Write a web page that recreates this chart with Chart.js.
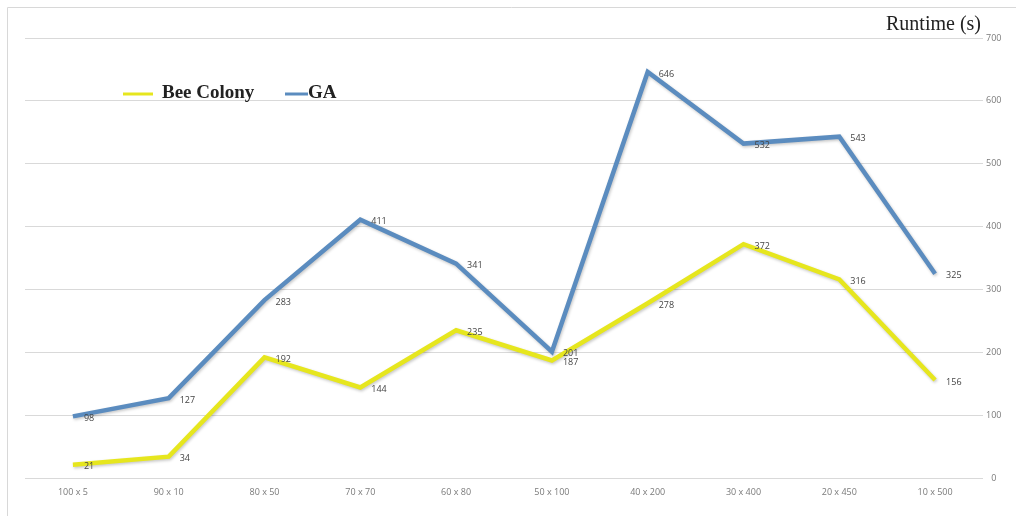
<!DOCTYPE html>
<html>
<head>
<meta charset="utf-8">
<script src="https://cdn.jsdelivr.net/npm/chart.js@4"></script>
<style>
html, body { margin: 0; padding: 0; background: #fff; }
#wrap { width: 1016px; height: 516px; }
</style>
</head>
<body>
<div id="wrap"><canvas id="myChart" width="1016" height="516"></canvas></div>
<script>
var categories = ['100 x 5', '90 x 10', '80 x 50', '70 x 70', '60 x 80', '50 x 100', '40 x 200', '30 x 400', '20 x 450', '10 x 500'];
var beeColony = [21, 34, 192, 144, 235, 187, 278, 372, 316, 156];
var ga = [98, 127, 283, 411, 341, 201, 646, 532, 543, 325];
var yTicks = [0, 100, 200, 300, 400, 500, 600, 700];

// frame, title, legend, value labels
var extras = {
    id: 'extras',
    beforeDatasetsDraw: function(chart){
        var ctx = chart.ctx;
        ctx.save();
        ctx.shadowColor = 'rgba(0,0,0,0.22)';
        ctx.shadowBlur = 3;
        ctx.shadowOffsetX = 1;
        ctx.shadowOffsetY = 1.5;
    },
    afterDatasetsDraw: function(chart){
        var ctx = chart.ctx;
        ctx.restore();
        // value labels
        ctx.save();
        ctx.font = '9px "Open Sans", sans-serif';
        ctx.fillStyle = '#444';
        ctx.textAlign = 'left';
        ctx.textBaseline = 'middle';
        chart.data.datasets.forEach(function(ds, i){
            chart.getDatasetMeta(i).data.forEach(function(pt, j){
                ctx.fillText(ds.data[j], pt.x + 11, pt.y + 2);
            });
        });
        ctx.restore();
    },
    afterDraw: function(chart){
        var ctx = chart.ctx;
        ctx.save();
        // faint frame
        ctx.strokeStyle = '#d8d8d8';
        ctx.lineWidth = 1;
        ctx.beginPath();
        ctx.moveTo(7.5, 516);
        ctx.lineTo(7.5, 7.5);
        ctx.lineTo(1016, 7.5);
        ctx.stroke();
        // axis title
        ctx.font = '20px "Liberation Serif", serif';
        ctx.fillStyle = '#222';
        ctx.textAlign = 'right';
        ctx.textBaseline = 'middle';
        ctx.fillText('Runtime (s)', 981, 25);
        // legend
        var items = [
            {x: 123, w: 30, tx: 162},
            {x: 285, w: 23, tx: 308}
        ];
        ctx.font = 'bold 19px "Liberation Serif", serif';
        ctx.textAlign = 'left';
        chart.data.datasets.forEach(function(ds, i){
            var it = items[i];
            ctx.strokeStyle = ds.borderColor;
            ctx.lineWidth = 3;
            ctx.beginPath();
            ctx.moveTo(it.x, 94);
            ctx.lineTo(it.x + it.w, 94);
            ctx.stroke();
            ctx.fillStyle = '#222';
            ctx.fillText(ds.label, it.tx, 93);
        });
        ctx.restore();
    }
};

var ctx = document.getElementById('myChart').getContext('2d');
var myChart = new Chart(ctx, {
    type: 'line',
    data: {
        labels: categories,
        datasets: [{
            label: 'Bee Colony',
            data: beeColony,
            borderColor: '#e6e61e',
            borderWidth: 4.5,
            pointRadius: 0,
            tension: 0,
            fill: false
        }, {
            label: 'GA',
            data: ga,
            borderColor: '#5b8cbf',
            borderWidth: 4.5,
            pointRadius: 0,
            tension: 0,
            fill: false
        }]
    },
    options: {
        responsive: false,
        animation: false,
        layout: {padding: {left: 25, top: 38, right: 0, bottom: 0}},
        plugins: {
            legend: {display: false},
            tooltip: {enabled: false}
        },
        scales: {
            x: {
                offset: true,
                grid: {display: false, drawTicks: false},
                border: {display: false},
                ticks: {
                    padding: 9,
                    maxRotation: 0,
                    color: '#7a7a7a',
                    font: {family: '"Open Sans", sans-serif', size: 9}
                },
                afterFit: function(scale){ scale.height = 38; }
            },
            y: {
                position: 'right',
                min: 0,
                max: 700,
                afterBuildTicks: function(scale){
                    scale.ticks = yTicks.map(function(v){ return {value: v}; });
                },
                grid: {color: '#d9d9d9', lineWidth: 1, drawTicks: false},
                border: {display: false},
                ticks: {
                    crossAlign: 'center',
                    color: '#7a7a7a',
                    font: {family: '"Open Sans", sans-serif', size: 9}
                },
                afterFit: function(scale){ scale.width = 33; }
            }
        }
    },
    plugins: [extras]
});
</script>
</body>
</html>
